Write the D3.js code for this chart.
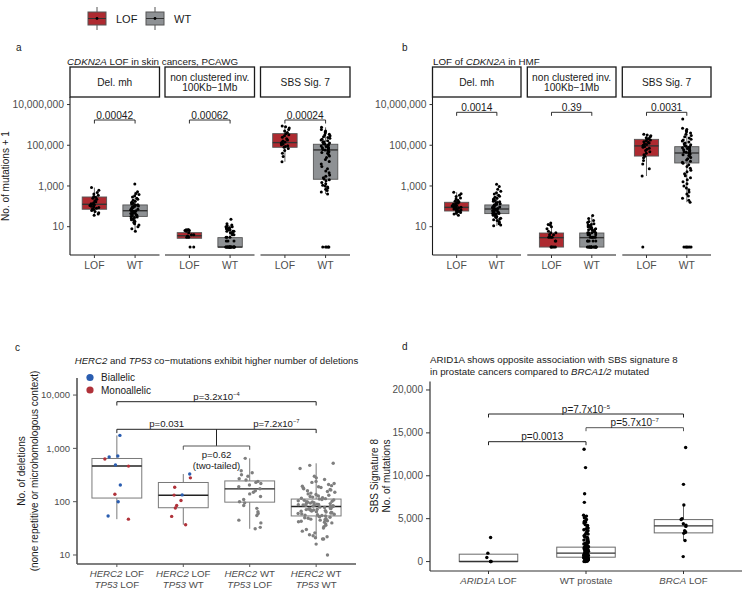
<!DOCTYPE html>
<html><head><meta charset="utf-8">
<script src="https://cdn.jsdelivr.net/npm/d3@7"></script>
<style>body{margin:0;background:#fff} svg{font-family:"Liberation Sans",Arial,Helvetica,sans-serif}</style>
</head><body><svg id="c" width="749" height="603"></svg>
<script>
// ---------------- DATA ----------------
const legendGroups = ["LOF", "WT"];
const facetNames = [["Del. mh"], ["non clustered inv.", "100Kb\u22121Mb"], ["SBS Sig. 7"]];
const groups = ["LOF", "WT"];
const logTickVals = [10, 1000, 100000, 10000000];
const pA = ["0.00042", "0.00062", "0.00024"];
const pB = ["0.0014", "0.39", "0.0031"];
// box stats: [lowerWhisker, q1, median, q3, upperWhisker]
const aBoxLOF = [[37, 72, 126, 288, 832], [2.7, 2.7, 3.6, 5.1, 7], [15500, 79400, 135000, 372000, 890000]];
const aBoxWT  = [[6, 32, 61, 117, 520], [1, 1, 1, 2.9, 12], [400, 2140, 59000, 112000, 760000]];
const bBoxLOF = [[37, 59, 89, 158, 490], [1, 1, 2.9, 4.9, 15], [3090, 29500, 93000, 195000, 350000]];
const bBoxWT  = [[11, 44, 74, 117, 460], [1, 1, 2.9, 4.9, 35], [160, 13500, 41700, 85000, 680000]];
// points (No. of mutations + 1)
const aDelLOF = [832, 620, 480, 400, 350, 300, 280, 250, 220, 190, 170, 150, 135, 126, 120, 110, 100, 95, 88, 80, 75, 70, 62, 55, 48, 42, 37];
const aDelWT = [1260, 520, 430, 380, 330, 290, 250, 220, 200, 180, 160, 150, 140, 130, 120, 115, 110, 105, 100, 95, 90, 85, 80, 76, 72, 68, 65, 62, 60, 58, 55, 52, 50, 48, 46, 44, 42, 40, 38, 36, 34, 32, 30, 28, 26, 24, 22, 20, 18, 16, 14, 12, 10, 8, 6];
const aInvLOF = [7, 7, 7, 6.5, 6.5, 6, 5, 4, 4, 3.5, 3, 3, 1, 1];
const aInvWT = [23, 14, 12, 11, 10, 10, 9, 9, 8, 8, 8, 7, 7, 7, 6, 6, 6, 5, 5, 5, 4, 4, 3, 3, 3, 2, 2, 2, 1, 1, 1, 1, 1, 1, 1, 1, 1, 1, 1, 1, 1, 1, 1, 1, 1, 1];
const aSBSLOF = [890000, 800000, 700000, 600000, 500000, 420000, 370000, 330000, 290000, 250000, 210000, 180000, 160000, 145000, 135000, 125000, 115000, 105000, 95000, 88000, 80000, 70000, 55000, 40000, 28000, 15500];
const aSBSWT = [760000, 600000, 500000, 450000, 400000, 350000, 320000, 290000, 260000, 240000, 220000, 200000, 180000, 165000, 150000, 140000, 130000, 120000, 112000, 105000, 98000, 92000, 86000, 80000, 75000, 70000, 66000, 62000, 59000, 56000, 52000, 48000, 44000, 40000, 35000, 30000, 25000, 20000, 16000, 12000, 9000, 7000, 5500, 4500, 3500, 3000, 2500, 2200, 2000, 1800, 1500, 1300, 1100, 1000, 900, 800, 700, 600, 500, 400, 1, 1, 1, 1, 1];
const bDelLOF = [490, 420, 350, 300, 260, 230, 200, 180, 165, 155, 145, 135, 125, 118, 110, 104, 98, 92, 89, 86, 82, 78, 74, 70, 66, 63, 60, 57, 54, 50, 46, 42, 37];
const bDelWT = [1200, 950, 700, 550, 460, 400, 350, 310, 280, 250, 230, 210, 195, 180, 168, 156, 145, 135, 126, 118, 112, 106, 100, 96, 92, 88, 85, 82, 79, 76, 74, 72, 70, 67, 64, 61, 58, 55, 52, 50, 48, 46, 44, 42, 40, 38, 36, 34, 32, 30, 28, 26, 24, 22, 20, 18, 16, 14, 12, 11];
const bInvLOF = [15, 13, 12, 10, 8, 6, 5, 5, 4, 4, 3, 3, 3, 2, 2, 1, 1, 1, 1, 1];
const bInvWT = [35, 25, 20, 18, 16, 14, 13, 12, 11, 10, 10, 9, 9, 8, 8, 7, 7, 7, 6, 6, 6, 5, 5, 5, 5, 4, 4, 4, 4, 3, 3, 3, 3, 3, 2, 2, 2, 2, 2, 1, 1, 1, 1, 1, 1, 1, 1, 1, 1, 1, 1, 1, 1, 1];
const bSBSLOF = [350000, 320000, 290000, 260000, 235000, 215000, 195000, 180000, 165000, 150000, 140000, 130000, 120000, 110000, 100000, 93000, 87000, 80000, 72000, 64000, 56000, 48000, 40000, 34000, 29000, 24000, 18000, 12000, 7000, 3090, 1];
const bSBSWT = [1950000, 680000, 600000, 520000, 460000, 400000, 350000, 300000, 260000, 230000, 200000, 180000, 160000, 145000, 130000, 118000, 107000, 98000, 90000, 85000, 80000, 75000, 70000, 65000, 60000, 56000, 52000, 48000, 45000, 42000, 40000, 37000, 34000, 31000, 28000, 25000, 22000, 19000, 16500, 14500, 13000, 11000, 9000, 7500, 6000, 5000, 4000, 3200, 2500, 2000, 1600, 1300, 1000, 800, 650, 500, 400, 320, 250, 200, 160, 1, 1, 1, 1, 1, 1];

// panel c
const cLabels = [["HERC2", " LOF", "TP53", " LOF"], ["HERC2", " LOF", "TP53", " WT"], ["HERC2", " WT", "TP53", " LOF"], ["HERC2", " WT", "TP53", " WT"]];
const cTickVals = [10, 100, 1000, 10000];
const cBox = [[47, 117, 468, 646, 1750], [37, 77, 132, 229, 330], [31, 98, 174, 245, 650], [20, 54, 81, 112, 525]];
const cBial1 = [1750, 720, 690, 490, 205, 100, 54];
const cMono1 = [630, 465, 138, 47];
const cBial2 = [330, 134];
const cMono2 = [280, 186, 133, 105, 85, 76, 53, 37];
const cWT3 = [650, 380, 350, 320, 300, 270, 255, 240, 230, 220, 205, 190, 175, 160, 150, 140, 125, 110, 100, 95, 85, 75, 65, 60, 55, 45, 40, 33, 31];
const cWT4 = [525, 480, 420, 300, 280, 260, 240, 230, 220, 210, 200, 195, 190, 185, 180, 175, 170, 165, 160, 155, 150, 145, 140, 136, 132, 128, 125, 122, 119, 116, 114, 112, 110, 108, 106, 104, 102, 100, 99, 98, 96, 95, 94, 92, 91, 90, 89, 88, 87, 86, 85, 84, 83, 82, 81, 80, 79, 78, 77, 76, 75, 74, 73, 72, 71, 70, 69, 68, 67, 66, 65, 64, 63, 62, 61, 60, 59, 58, 57, 56, 55, 54, 53, 52, 51, 50, 49, 48, 47, 46, 45, 44, 43, 42, 41, 40, 38, 36, 34, 32, 30, 28, 26, 24, 23, 22, 21, 20, 20, 16, 10];
const cLegend = ["Biallelic", "Monoallelic"];

// panel d
const dCats = [["ARID1A", " LOF"], ["", "WT prostate"], ["BRCA", " LOF"]];
const dTickVals = [0, 5000, 10000, 15000, 20000];
const dBox = [[0, 0, 0, 860, 980], [0, 510, 980, 1680, 3400], [2446, 3343, 4158, 4892, 6605]];
const dARID = [2800, 980, 470, 0, 0, 0];
const dWT = [13100, 10950, 7900, 6900, 5400, 5300, 5200, 5100, 4900, 4700, 4600, 4500, 4300, 4200, 4100, 3900, 3800, 3700, 3600, 3500, 3400, 3300, 3200, 3100, 3000, 2900, 2850, 2800, 2700, 2600, 2550, 2500, 2400, 2300, 2250, 2200, 2100, 2050, 2000, 1950, 1900, 1850, 1800, 1750, 1700, 1680, 1650, 1600, 1550, 1500, 1450, 1400, 1350, 1300, 1250, 1200, 1150, 1100, 1060, 1020, 980, 950, 920, 890, 860, 830, 800, 770, 740, 710, 680, 650, 620, 600, 580, 560, 540, 520, 510, 490, 470, 450, 430, 410, 390, 370, 350, 330, 310, 290, 270, 250, 230, 210, 190, 170, 150, 130, 110, 90, 70, 50, 30, 10, 0];
const dBRCA = [13300, 9000, 6600, 5000, 4900, 4400, 4250, 4100, 3600, 3450, 3400, 3300, 2450, 580];

// ---------------- STYLE ----------------
const RED = "#AE2A30", GREY = "#8E9194", BLUE = "#2A5DB0", CRED = "#B0323A", PGREY = "#7F7F7F";
const TXT = "#4D4D4D";
const svg = d3.select("#c");
// deterministic horizontal jitter (position only)
const jit = (i, w) => { const s = Math.sin((i + 1) * 12.9898) * 43758.5453; return ((s - Math.floor(s)) - 0.5) * 2 * w; };
const fmt = d3.format(",");

function txt(g, x, y, s, opt = {}) {
  return g.append("text").attr("x", x).attr("y", y).text(s)
    .attr("font-size", opt.size || 10).attr("fill", opt.fill || "#1a1a1a")
    .attr("text-anchor", opt.anchor || "start").attr("font-style", opt.italic ? "italic" : null);
}
function drawBox(g, cx, w, st, y, fill, stroke, med, sw) {
  const [lo, q1, m, q3, hi] = st;
  g.append("line").attr("x1", cx).attr("x2", cx).attr("y1", y(q3)).attr("y2", y(hi)).attr("stroke", stroke).attr("stroke-width", sw);
  g.append("line").attr("x1", cx).attr("x2", cx).attr("y1", y(q1)).attr("y2", y(lo)).attr("stroke", stroke).attr("stroke-width", sw);
  g.append("rect").attr("x", cx - w / 2).attr("width", w).attr("y", y(q3)).attr("height", Math.max(0.5, y(q1) - y(q3)))
    .attr("fill", fill).attr("stroke", stroke).attr("stroke-width", sw);
  g.append("line").attr("x1", cx - w / 2).attr("x2", cx + w / 2).attr("y1", y(m)).attr("y2", y(m)).attr("stroke", med).attr("stroke-width", 1.4);
}
function bracket(g, x1, x2, yb, tip, color, sw) {
  g.append("path").attr("d", `M${x1},${yb + tip}V${yb}H${x2}V${yb + tip}`).attr("fill", "none").attr("stroke", color).attr("stroke-width", sw);
}
function pText(g, x, y, base, exp, size) {
  const t = g.append("text").attr("x", x).attr("y", y).attr("text-anchor", "middle").attr("font-size", size).attr("fill", "#1a1a1a");
  t.append("tspan").text(base);
  if (exp) t.append("tspan").text(exp).attr("font-size", size * 0.6).attr("dy", -4);
}

// ---------------- TOP LEGEND ----------------
const leg = svg.append("g");
[[88, RED], [146, GREY]].forEach(([x, c], i) => {
  leg.append("line").attr("x1", x + 9).attr("x2", x + 9).attr("y1", 7).attr("y2", 30).attr("stroke", "#555").attr("stroke-width", 1);
  leg.append("rect").attr("x", x).attr("y", 12).attr("width", 18).attr("height", 13).attr("fill", c).attr("stroke", "#555").attr("stroke-width", 1);
  leg.append("line").attr("x1", x).attr("x2", x + 18).attr("y1", 18.5).attr("y2", 18.5).attr("stroke", "#333").attr("stroke-width", 1);
  leg.append("circle").attr("cx", x + 9).attr("cy", 18.5).attr("r", 1.4).attr("fill", "#000");
  txt(leg, x + 28, 22.5, legendGroups[i], { size: 11 });
});

// ---------------- PANELS A & B ----------------
function facetPanel(o) {
  const g = svg.append("g");
  const y = d3.scaleLog().domain([Math.pow(10, -0.39), Math.pow(10, 7.37)]).range([255, 97]);
  o.facets.forEach((fr, f) => {
    const x = d3.scalePoint().domain(groups).range(fr).padding(0.6);
    const bw = x.step() * 0.6;
    g.append("rect").attr("x", fr[0]).attr("y", 67).attr("width", fr[1] - fr[0]).attr("height", 30).attr("fill", "#fff").attr("stroke", "#1a1a1a").attr("stroke-width", 1.3);
    const lines = facetNames[f];
    lines.forEach((s, k) => txt(g, (fr[0] + fr[1]) / 2, lines.length === 1 ? 85.5 : 80.5 + k * 10.5, s, { anchor: "middle", size: 10.2 }));
    g.append("line").attr("x1", fr[0]).attr("x2", fr[1]).attr("y1", 255).attr("y2", 255).attr("stroke", "#1a1a1a").attr("stroke-width", 1.1);
    groups.forEach(c => {
      g.append("line").attr("x1", x(c)).attr("x2", x(c)).attr("y1", 255).attr("y2", 258).attr("stroke", "#333");
      txt(g, x(c), 268.5, c, { anchor: "middle", size: 10.4, fill: TXT });
    });
    drawBox(g, x("LOF"), bw, o.boxLOF[f], y, RED, "#555", "#333", 0.9);
    drawBox(g, x("WT"), bw, o.boxWT[f], y, GREY, "#555", "#333", 0.9);
    [["LOF", o.ptsLOF[f], 11], ["WT", o.ptsWT[f], 37]].forEach(([c, arr, seed]) => {
      g.selectAll(null).data(arr).enter().append("circle")
        .attr("cx", (d, i) => x(c) + jit(i + seed * (f + 1), 4.5)).attr("cy", d => y(d)).attr("r", 1.5).attr("fill", "#000");
    });
    bracket(g, x("LOF"), x("WT"), o.by, 3.5, "#1a1a1a", 0.9);
    txt(g, (x("LOF") + x("WT")) / 2, o.by - 1.5, o.p[f], { anchor: "middle", size: 10.2 });
  });
  const x0 = o.facets[0][0];
  g.append("line").attr("x1", x0).attr("x2", x0).attr("y1", 97).attr("y2", 255).attr("stroke", "#1a1a1a").attr("stroke-width", 1.1);
  logTickVals.forEach(v => {
    g.append("line").attr("x1", x0 - 3).attr("x2", x0).attr("y1", y(v)).attr("y2", y(v)).attr("stroke", "#333");
    txt(g, x0 - 6, y(v) + 3.6, fmt(v), { anchor: "end", size: 10.3, fill: TXT });
  });
  txt(g, o.lx, 51, o.letter, { size: 10 });
  const t = g.append("text").attr("x", o.tx).attr("y", 65).attr("font-size", 9.8).attr("fill", "#1a1a1a");
  o.title.forEach(([s, it]) => t.append("tspan").text(s).attr("font-style", it ? "italic" : null));
  if (o.ytitle) {
    g.append("text").attr("transform", `translate(${o.ytx},176) rotate(-90)`).attr("text-anchor", "middle")
      .attr("font-size", 10).attr("fill", "#1a1a1a").text(o.ytitle);
  }
}
facetPanel({
  facets: [[70, 159.5], [165, 254.5], [260.5, 350]], boxLOF: aBoxLOF, boxWT: aBoxWT,
  ptsLOF: [aDelLOF, aInvLOF, aSBSLOF], ptsWT: [aDelWT, aInvWT, aSBSWT], p: pA, by: 120,
  letter: "a", lx: 16, tx: 67, title: [["CDKN2A", true], [" LOF in skin cancers, PCAWG", false]], ytitle: "No. of mutations + 1", ytx: 9
});
facetPanel({
  facets: [[432.5, 521], [527.3, 616], [622.3, 711]], boxLOF: bBoxLOF, boxWT: bBoxWT,
  ptsLOF: [bDelLOF, bInvLOF, bSBSLOF], ptsWT: [bDelWT, bInvWT, bSBSWT], p: pB, by: 112.3,
  letter: "b", lx: 402, tx: 433, title: [["LOF of ", false], ["CDKN2A", true], [" in HMF", false]], ytitle: null
});

// ---------------- PANEL C ----------------
(function () {
  const g = svg.append("g");
  const y = d3.scaleLog().domain([Math.pow(10, 0.831), Math.pow(10, 4.32)]).range([564, 378]);
  const x = d3.scalePoint().domain([0, 1, 2, 3]).range([77, 356]).padding(0.6);
  const bw = x.step() * 0.75;
  cBox.forEach((st, i) => drawBox(g, x(i), bw, st, y, "#fff", "#7a7a7a", "#222", 1));
  const pts = [];
  cBial1.forEach(v => pts.push([0, v, BLUE])); cMono1.forEach(v => pts.push([0, v, CRED]));
  cBial2.forEach(v => pts.push([1, v, BLUE])); cMono2.forEach(v => pts.push([1, v, CRED]));
  cWT3.forEach(v => pts.push([2, v, PGREY])); cWT4.forEach(v => pts.push([3, v, PGREY]));
  const jw = [12, 12, 13, 19];
  g.selectAll(null).data(pts).enter().append("circle")
    .attr("cx", (d, i) => x(d[0]) + jit(i * 3 + 5, jw[d[0]])).attr("cy", d => y(d[1])).attr("r", 1.7).attr("fill", d => d[2]);
  g.append("line").attr("x1", 77).attr("x2", 77).attr("y1", 378).attr("y2", 564).attr("stroke", "#555").attr("stroke-width", 1.6);
  g.append("line").attr("x1", 77).attr("x2", 356).attr("y1", 564).attr("y2", 564).attr("stroke", "#555").attr("stroke-width", 1.6);
  cTickVals.forEach(v => {
    g.append("line").attr("x1", 73).attr("x2", 77).attr("y1", y(v)).attr("y2", y(v)).attr("stroke", "#555");
    txt(g, 70, y(v) + 3.4, fmt(v), { anchor: "end", size: 9.5, fill: TXT });
  });
  cLabels.forEach((l, i) => {
    g.append("line").attr("x1", x(i)).attr("x2", x(i)).attr("y1", 564).attr("y2", 567).attr("stroke", "#555");
    [[l[0], l[1], 577], [l[2], l[3], 588]].forEach(([a, b, yy]) => {
      const t = g.append("text").attr("x", x(i)).attr("y", yy).attr("text-anchor", "middle").attr("font-size", 9.7).attr("fill", TXT);
      t.append("tspan").text(a).attr("font-style", "italic"); t.append("tspan").text(b);
    });
  });
  g.append("text").attr("transform", "translate(25,471) rotate(-90)").attr("text-anchor", "middle").attr("font-size", 10).attr("fill", "#1a1a1a").text("No. of deletions");
  g.append("text").attr("transform", "translate(38,471) rotate(-90)").attr("text-anchor", "middle").attr("font-size", 10).attr("fill", "#1a1a1a").text("(none repetitive or microhomologous context)");
  [[BLUE, 377.5], [CRED, 390]].forEach(([c, yy], i) => {
    g.append("circle").attr("cx", 90).attr("cy", yy).attr("r", 3.6).attr("fill", c);
    txt(g, 101, yy + 3.6, cLegend[i], { size: 10 });
  });
  const t = g.append("text").attr("x", 216.5).attr("y", 364).attr("text-anchor", "middle").attr("font-size", 9.6).attr("fill", "#1a1a1a");
  t.append("tspan").text("HERC2").attr("font-style", "italic"); t.append("tspan").text(" and ");
  t.append("tspan").text("TP53").attr("font-style", "italic"); t.append("tspan").text(" co\u2212mutations exhibit higher number of deletions");
  txt(g, 15, 351, "c", { size: 10 });
  bracket(g, x(0), x(3), 401.7, 3.8, "#222", 1);
  pText(g, (x(0) + x(3)) / 2, 399.5, "p=3.2x10", "\u22124", 9.6);
  bracket(g, x(0), x(3), 429.3, 3.8, "#222", 1);
  const mid = (x(1) + x(2)) / 2;
  g.append("line").attr("x1", mid).attr("x2", mid).attr("y1", 429.3).attr("y2", 446).attr("stroke", "#222").attr("stroke-width", 1);
  bracket(g, x(1), x(2), 446, 3.8, "#555", 1);
  pText(g, (x(0) + mid) / 2, 427, "p=0.031", null, 9.6);
  pText(g, (mid + x(3)) / 2 + 10, 427, "p=7.2x10", "\u22127", 9.6);
  pText(g, mid, 458, "p=0.62", null, 9.6);
  pText(g, mid, 469, "(two-tailed)", null, 9.6);
})();

// ---------------- PANEL D ----------------
(function () {
  const g = svg.append("g");
  const y = d3.scaleLinear().domain([-1100, 21000]).range([571, 381.4]);
  const x = d3.scalePoint().domain([0, 1, 2]).range([430, 742]).padding(0.6);
  const bw = x.step() * 0.6;
  dBox.forEach((st, i) => drawBox(g, x(i), bw, st, y, "none", "#6a6a6a", "#333", 1));
  [dARID, dWT, dBRCA].forEach((arr, k) => {
    g.selectAll(null).data(arr).enter().append("circle")
      .attr("cx", (d, i) => x(k) + jit(i * 3 + k * 50, 2.5)).attr("cy", d => y(d)).attr("r", 1.7).attr("fill", "#000");
  });
  g.append("line").attr("x1", 430).attr("x2", 430).attr("y1", 381.4).attr("y2", 571).attr("stroke", "#333").attr("stroke-width", 1.2);
  g.append("line").attr("x1", 430).attr("x2", 742).attr("y1", 571).attr("y2", 571).attr("stroke", "#333").attr("stroke-width", 1.2);
  dTickVals.forEach(v => {
    g.append("line").attr("x1", 426).attr("x2", 430).attr("y1", y(v)).attr("y2", y(v)).attr("stroke", "#333");
    txt(g, 423, y(v) + 3.5, fmt(v), { anchor: "end", size: 10, fill: TXT });
  });
  dCats.forEach((l, i) => {
    g.append("line").attr("x1", x(i)).attr("x2", x(i)).attr("y1", 571).attr("y2", 574).attr("stroke", "#333");
    const t = g.append("text").attr("x", x(i)).attr("y", 583.5).attr("text-anchor", "middle").attr("font-size", 9.7).attr("fill", TXT);
    if (l[0]) t.append("tspan").text(l[0]).attr("font-style", "italic");
    t.append("tspan").text(l[1]);
  });
  g.append("text").attr("transform", "translate(378,476) rotate(-90)").attr("text-anchor", "middle").attr("font-size", 10).attr("fill", "#1a1a1a").text("SBS Signature 8");
  g.append("text").attr("transform", "translate(390,476) rotate(-90)").attr("text-anchor", "middle").attr("font-size", 10).attr("fill", "#1a1a1a").text("No. of mutations");
  txt(g, 402, 350, "d", { size: 10 });
  txt(g, 430, 362.5, "ARID1A shows opposite association with SBS signature 8", { size: 9.7 });
  const t2 = g.append("text").attr("x", 430).attr("y", 375).attr("font-size", 9.7).attr("fill", "#1a1a1a");
  t2.append("tspan").text("in prostate cancers compared to ");
  t2.append("tspan").text("BRCA1/2").attr("font-style", "italic");
  t2.append("tspan").text(" mutated");
  bracket(g, x(0), x(2), 414, 3.5, "#222", 1);
  pText(g, x(1), 412.5, "p=7.7x10", "\u22125", 10);
  bracket(g, x(1), x(2), 427.7, 3.5, "#555", 1);
  pText(g, (x(1) + x(2)) / 2, 426.2, "p=5.7x10", "\u22127", 10);
  bracket(g, x(0), x(1), 441.7, 3.5, "#222", 1);
  pText(g, (x(0) + x(1)) / 2 + 5, 440.2, "p=0.0013", null, 10);
})();
</script></body></html>
